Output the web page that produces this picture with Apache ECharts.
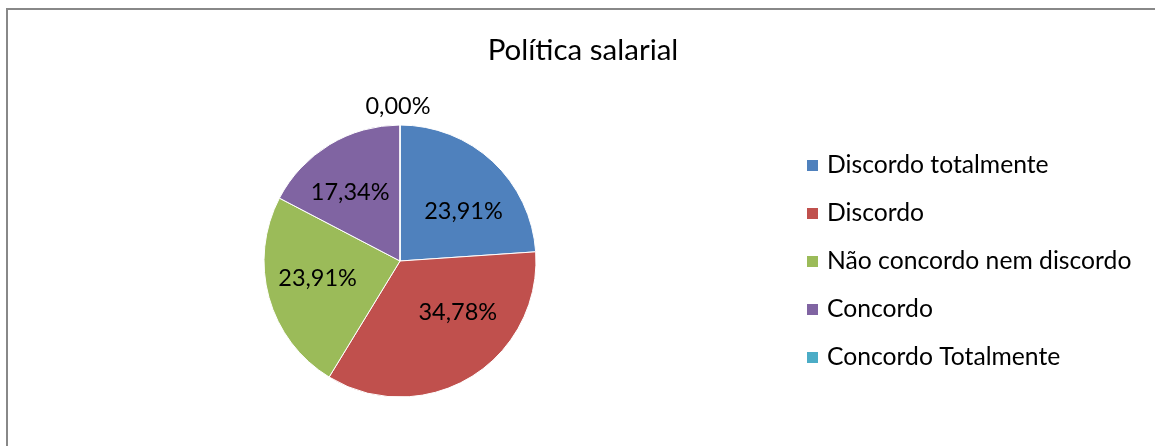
<!DOCTYPE html>
<html>
<head>
<meta charset="utf-8">
<script src="https://cdn.jsdelivr.net/npm/echarts@6/dist/echarts.min.js"></script>
<style>
  html, body { margin: 0; padding: 0; background: #fff; }
  #chart { width: 1155px; height: 446px; }
</style>
</head>
<body>
<div id="chart"></div>
<script>
// Survey answers on salary policy (percent of respondents)
const categories = [
  'Discordo totalmente',
  'Discordo',
  'Não concordo nem discordo',
  'Concordo',
  'Concordo Totalmente'
];
const percentages = [23.91, 34.78, 23.91, 17.34, 0.00];
const sliceColors = ['#4F81BD', '#C0504D', '#9BBB59', '#8064A2', '#4BACC6'];
// nudges for the percentage labels, in pixels from the default inside spot
const labelShift = [[15, 2], [21, -9], [-14, -2], [-13, -8], [-2, -84]];

const FONT = 'Lato';

const chart = echarts.init(document.getElementById('chart'), null, { renderer: 'canvas' });

chart.setOption({
  animation: false,
  backgroundColor: '#fff',
  color: sliceColors,
  graphic: [{
    type: 'rect',
    silent: true,
    shape: { x: 7, y: 9, width: 1300, height: 600 },
    style: { fill: 'none', stroke: '#888', lineWidth: 2 }
  }],
  title: {
    text: 'Política salarial',
    left: 578,
    top: 30,
    textAlign: 'center',
    textStyle: { fontFamily: FONT, fontSize: 29.5, fontWeight: 'normal', color: '#000' }
  },
  legend: {
    orient: 'vertical',
    left: 805,
    top: 153,
    padding: 0,
    icon: 'rect',
    itemWidth: 13,
    itemHeight: 13,
    itemGap: 23,
    data: categories,
    textStyle: {
      fontFamily: FONT, fontSize: 24.7, color: '#000',
      lineHeight: 24, padding: [0, 0, 0, 3]
    }
  },
  series: [{
    type: 'pie',
    center: [400, 261],
    radius: 136,
    startAngle: 90,
    clockwise: true,
    avoidLabelOverlap: false,
    stillShowZeroSum: true,
    minShowLabelAngle: 0,
    itemStyle: { borderColor: '#fff', borderWidth: 1 },
    label: {
      show: true,
      position: 'inside',
      fontFamily: FONT,
      fontSize: 23.5,
      color: '#000',
      formatter: p => p.value.toFixed(2).replace('.', ',') + '%'
    },
    labelLine: { show: false },
    labelLayout: p => ({ dx: labelShift[p.dataIndex][0], dy: labelShift[p.dataIndex][1] }),
    emphasis: { disabled: true },
    data: categories.map((name, i) => ({ name, value: percentages[i] }))
  }]
});
</script>
</body>
</html>
